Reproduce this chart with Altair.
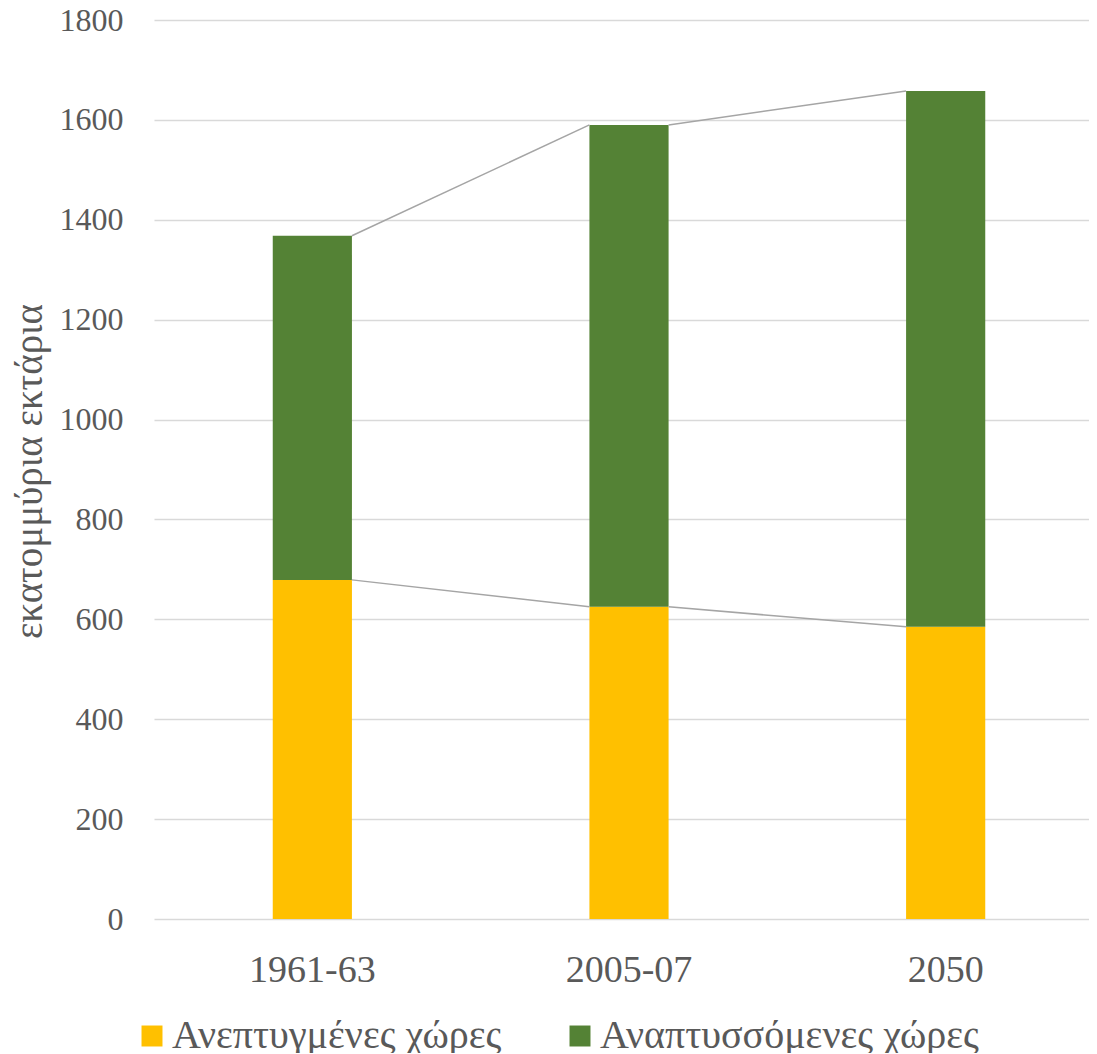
import altair as alt
import pandas as pd

periods = ["1961-63", "2005-07", "2050"]
developed = [679, 625, 585]          # Ανεπτυγμένες χώρες
developing = [689, 965, 1073]        # Αναπτυσσόμενες χώρες
series_names = ["Ανεπτυγμένες χώρες", "Αναπτυσσόμενες χώρες"]
colors = ["#FFC000", "#548235"]

rows = []
for p, a, b in zip(periods, developed, developing):
    rows.append({"period": p, "series": series_names[0], "value": a, "ord": 0})
    rows.append({"period": p, "series": series_names[1], "value": b, "ord": 1})
bars_df = pd.DataFrame(rows)

totals = [a + b for a, b in zip(developed, developing)]
seg_rows = []
for i in range(len(periods) - 1):
    seg_rows.append({"p0": periods[i], "p1": periods[i + 1], "y0": developed[i], "y1": developed[i + 1]})
    seg_rows.append({"p0": periods[i], "p1": periods[i + 1], "y0": totals[i], "y1": totals[i + 1]})
seg_df = pd.DataFrame(seg_rows)

FONT = "Liberation Serif"

xscale = alt.Scale(domain=periods, range=[0, 950], paddingInner=0.75, paddingOuter=0.375)
yscale = alt.Scale(domain=[0, 1800], nice=False)

xaxis = alt.Axis(title=None, labelAngle=0, labelAlign="center", bandPosition=0.5,
                 labelFontSize=38, labelFont=FONT,
                 labelColor="#595959", ticks=False, domain=False, labelPadding=32)
yaxis = alt.Axis(title="εκατομμύρια εκτάρια", values=list(range(0, 1801, 200)),
                 format="d",
                 labelFontSize=32, labelFont=FONT, labelColor="#595959",
                 labelPadding=31, ticks=False, domain=False,
                 gridColor="#D9D9D9", gridWidth=1.5,
                 titleFont=FONT, titleFontSize=39, titleFontWeight="normal",
                 titleColor="#595959", titleX=-125, titleY=451,
                 titleAngle=-90, titleAlign="center", titleBaseline="middle")

bars = alt.Chart(bars_df).mark_bar().encode(
    x=alt.X("period:N", scale=xscale, sort=periods, axis=xaxis),
    y=alt.Y("value:Q", stack="zero", scale=yscale, axis=yaxis),
    color=alt.Color("series:N", scale=alt.Scale(domain=series_names, range=colors),
                    legend=alt.Legend(title=None, orient="none", direction="horizontal",
                                      legendX=-22, legendY=996, symbolType="square",
                                      symbolSize=440, symbolStrokeWidth=0,
                                      labelFont=FONT, labelFontSize=40, labelColor="#595959",
                                      labelOffset=0, columnPadding=58, labelLimit=600, padding=0)),
    order=alt.Order("ord:Q"),
)

lines = alt.Chart(seg_df).mark_rule(color="#A5A5A5", strokeWidth=1.5).encode(
    x=alt.X("p0:N", scale=xscale, sort=periods, bandPosition=1, axis=xaxis),
    x2=alt.X2("p1:N", bandPosition=0),
    y=alt.Y("y0:Q", scale=yscale, axis=yaxis),
    y2=alt.Y2("y1:Q"),
)

chart = alt.layer(bars, lines).properties(
    width=935, height=899,
    padding={"left": 146, "top": 12, "right": 0, "bottom": 134},
    autosize=alt.AutoSizeParams(type="none"),
).configure_view(stroke=None)

chart.save("out.html", embed_options={"renderer": "svg", "actions": False})
